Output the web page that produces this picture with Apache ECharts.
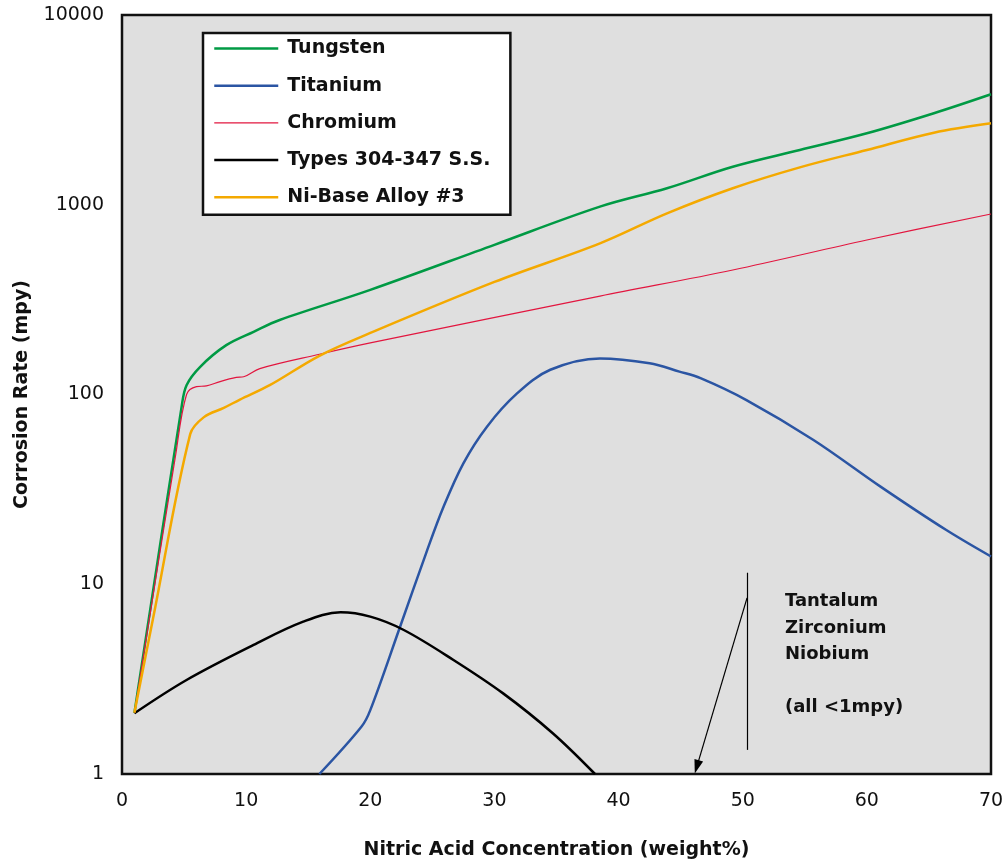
<!DOCTYPE html>
<html>
<head>
<meta charset="utf-8">
<script src="https://cdn.jsdelivr.net/npm/echarts@6/dist/echarts.min.js"></script>
<style>
html,body{margin:0;padding:0;background:#fff;}
#main{width:1008px;height:865px;}
</style>
</head>
<body>
<div id="main"></div>
<script>
// corrosion rate (mpy) vs nitric acid concentration (weight%)
var seriesNames = ['Tungsten', 'Titanium', 'Chromium', 'Types 304-347 S.S.', 'Ni-Base Alloy #3'];
var seriesColors = ['#009a44', '#2b55a3', '#e2163f', '#000000', '#f4a900'];

var tungsten = [[1,2.1],[4.8,86],[5.2,112],[6.3,140],[8.4,182],[10.6,214],[12.7,247],[20,356],[30,615],[38.5,977],[43.9,1222],[49.2,1587],[54.6,1944],[60,2379],[65.4,3035],[70,3820]];
var titanium = [[15.9,1.0],[19.3,1.78],[20,2.17],[22.4,5.97],[24.5,14.6],[25.9,25.6],[27.5,43.4],[29.4,67.7],[31.8,101],[34.5,135],[38.5,155],[42.5,146],[44.9,132],[46.6,122],[50.3,93.5],[55.7,57.6],[61.1,32.7],[66.4,19.3],[70,14]];
var chromium = [[1,2.1],[4.3,47],[5.2,100],[6.0,110],[6.8,111],[7.9,117],[9.2,123],[9.8,124],[11.1,137],[15.9,163],[20,187],[38.5,330],[49.2,453],[60,652],[70,894]];
var stainless = [[1,2.09],[5.2,3.13],[10.6,4.79],[14.6,6.35],[17.6,7.11],[20,6.75],[22.7,5.74],[26.7,3.99],[30.7,2.66],[34.7,1.64],[38.1,1.0]];
var niBase = [[1,2.1],[2.5,6.6],[5.5,62],[6.6,76],[8.2,85],[9.5,94],[11.9,112],[15.9,160],[20,211],[30,392],[38.5,626],[43.9,901],[49.2,1222],[54.6,1574],[60,1944],[65.4,2398],[70,2687]];
var seriesData = [tungsten, titanium, chromium, stainless, niBase];
var lineWidths = [2.5, 2.5, 1.2, 2.5, 2.5];

var yTicks = [1, 10, 100, 1000, 10000];
var noteLines = ['Tantalum', 'Zirconium', 'Niobium', '', '(all <1mpy)'];
// pointer: vertical bar and arrow, in data units
var noteBar = [[50.35, 11.5], [50.35, 1.34]];
var noteArrow = [[50.35, 8.47], [46.3, 1.09]];

var boldFont = '"DejaVu Sans", sans-serif';
var tickFont = '"DejaVu Sans", sans-serif';
var chart = echarts.init(document.getElementById('main'), null, {renderer: 'canvas'});

var series = [];
var legendData = [];
for (var i = 0; i < seriesNames.length; i++) {
	series.push({
		name: seriesNames[i],
		type: 'line',
		data: seriesData[i],
		symbol: 'none',
		smooth: 0.35,
		clip: true,
		lineStyle: {color: seriesColors[i], width: lineWidths[i]},
		itemStyle: {color: seriesColors[i]},
		z: 3
	});
	legendData.push({name: seriesNames[i], lineStyle: {width: lineWidths[i], color: seriesColors[i]}});
}
// annotation pointer lines
series.push({
	type: 'line',
	data: [],
	silent: true,
	markLine: {
		silent: true,
		animation: false,
		label: {show: false},
		lineStyle: {color: '#000', width: 1.2, type: 'solid'},
		symbol: ['none', 'none'],
		data: [
			[{coord: noteBar[0]}, {coord: noteBar[1]}],
			[{coord: noteArrow[0], symbol: 'none'}, {coord: noteArrow[1], symbol: 'triangle', symbolSize: [9, 14]}]
		]
	}
});

var option = {
	animation: false,
	backgroundColor: '#ffffff',
	grid: {
		left: 122, right: 17, top: 15, bottom: 91,
		show: true,
		backgroundColor: '#dfdfdf',
		borderColor: '#111',
		borderWidth: 2.5
	},
	legend: {
		data: legendData,
		orient: 'vertical',
		left: 203, top: 33,
		backgroundColor: '#ffffff',
		borderColor: '#111',
		borderWidth: 2.5,
		padding: [6, 20, 8, 10],
		itemWidth: 64,
		itemHeight: 14,
		itemGap: 18.2,
		selectedMode: false,
		itemStyle: {opacity: 0},
		textStyle: {fontFamily: boldFont, fontWeight: 'bold', fontSize: 19, color: '#111', padding: [0, 0, 0, 4]}
	},
	xAxis: {
		type: 'value',
		min: 0, max: 70, interval: 10,
		name: 'Nitric Acid Concentration (weight%)',
		nameLocation: 'middle',
		nameGap: 67,
		nameTextStyle: {fontFamily: boldFont, fontWeight: 'bold', fontSize: 19, color: '#111'},
		axisLine: {show: false},
		axisTick: {show: false},
		splitLine: {show: false},
		axisLabel: {fontFamily: tickFont, fontSize: 19, color: '#111', margin: 18}
	},
	yAxis: {
		type: 'log',
		logBase: 10,
		min: 1, max: 10000,
		name: 'Corrosion Rate (mpy)',
		nameLocation: 'middle',
		nameGap: 90,
		nameTextStyle: {fontFamily: boldFont, fontWeight: 'bold', fontSize: 19, color: '#111'},
		axisLine: {show: false},
		axisTick: {show: false},
		splitLine: {show: false},
		minorTick: {show: false},
		axisLabel: {
			fontFamily: tickFont, fontSize: 19, color: '#111', margin: 18,
			formatter: function (v) { return yTicks.indexOf(Math.round(v)) >= 0 ? String(Math.round(v)) : ''; }
		}
	},
	series: series
};
chart.setOption(option);

// note text positioned from data coordinates
var notePos = chart.convertToPixel({gridIndex: 0}, [53.4, 9.5]);
chart.setOption({
	graphic: [{
		type: 'text',
		left: notePos[0],
		top: notePos[1],
		silent: true,
		style: {
			text: noteLines.join('\n'),
			font: 'bold 18px ' + boldFont,
			fill: '#111',
			lineHeight: 26.5
		}
	}]
});
</script>
</body>
</html>
